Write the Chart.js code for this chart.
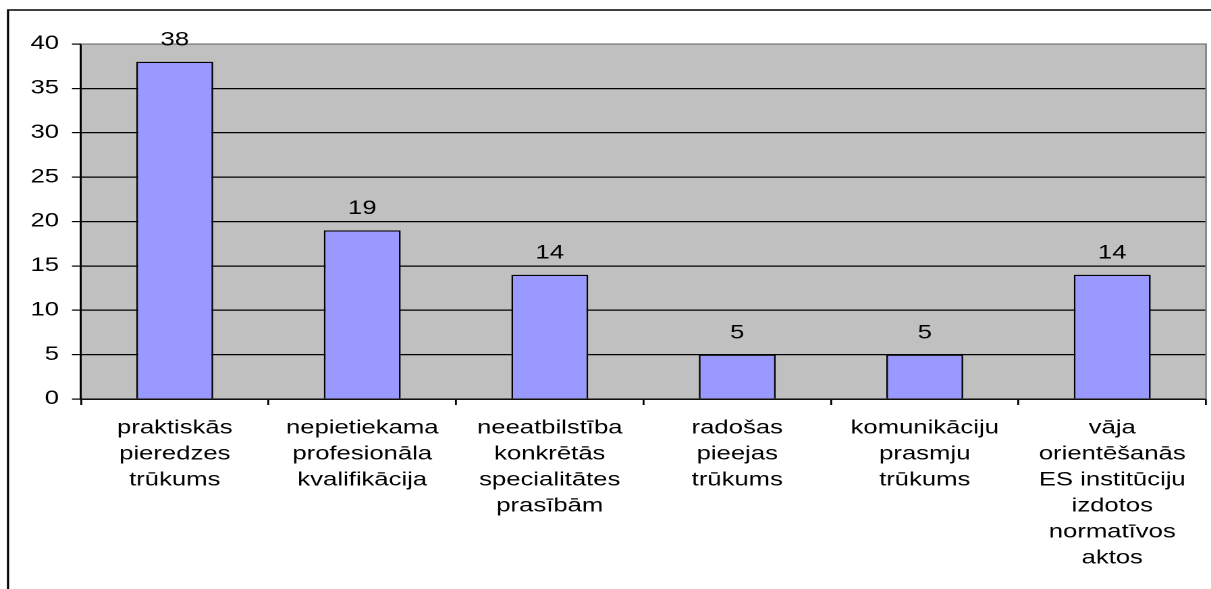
<!DOCTYPE html>
<html>
<head>
<meta charset="utf-8">
<script src="https://cdn.jsdelivr.net/npm/chart.js@4/dist/chart.umd.min.js"></script>
<style>
html,body{margin:0;padding:0;background:#fff;}
#wrap{width:1211px;height:589px;overflow:hidden;position:relative;}
#c{transform-origin:0 0;}
</style>
</head>
<body>
<div id="wrap"><canvas id="c" width="897" height="589" style="width:897px;height:589px;"></canvas></div>
<script>
// ---- data ----
const categories = [
  ["praktiskās", "pieredzes", "trūkums"],
  ["nepietiekama", "profesionāla", "kvalifikācija"],
  ["neeatbilstība", "konkrētās", "specialitātes", "prasībām"],
  ["radošas", "pieejas", "trūkums"],
  ["komunikāciju", "prasmju", "trūkums"],
  ["vāja", "orientēšanās", "ES institūciju", "izdotos", "normatīvos", "aktos"]
];
const values = [38, 19, 14, 5, 5, 14];
const yTicks = [0, 5, 10, 15, 20, 25, 30, 35, 40];

// ---- layout (reference is horizontally stretched) ----
const REF_W = 1211, LOG_W = 897;
const SX = REF_W / LOG_W;
document.getElementById('c').style.transform = 'scaleX(' + SX + ')';
const FONT = "'Liberation Sans', Arial, sans-serif";
const FS = 19;

const decor = {
  id: 'decor',
  beforeDraw(chart) {
    const {ctx, chartArea: a} = chart;
    ctx.save();
    ctx.fillStyle = '#C0C0C0';
    ctx.fillRect(a.left, a.top, a.right - a.left, a.bottom - a.top);
    ctx.restore();
  },
  afterDatasetsDraw(chart) {
    const {ctx, chartArea: a} = chart;
    ctx.save();
    // plot border top / right (gray)
    ctx.strokeStyle = '#808080';
    ctx.lineWidth = 1.3;
    ctx.beginPath();
    ctx.moveTo(a.left, a.top);
    ctx.lineTo(a.right, a.top);
    ctx.lineTo(a.right, a.bottom);
    ctx.stroke();
    // value labels
    const meta = chart.getDatasetMeta(0);
    ctx.fillStyle = '#000';
    ctx.font = FS + 'px ' + FONT;
    ctx.textAlign = 'center';
    ctx.textBaseline = 'middle';
    meta.data.forEach((bar, i) => {
      ctx.fillText(String(values[i]), bar.x, bar.y - 21.5);
    });
    // outer frame (top and left)
    ctx.strokeStyle = '#000';
    ctx.lineWidth = 1.6;
    ctx.beginPath();
    ctx.moveTo(8 / SX, chart.height);
    ctx.lineTo(8 / SX, 10);
    ctx.lineTo(chart.width, 10);
    ctx.stroke();
    ctx.restore();
  }
};

new Chart(document.getElementById('c'), {
  type: 'bar',
  data: {
    labels: categories,
    datasets: [{
      data: values,
      backgroundColor: '#9999FF',
      borderColor: '#000000',
      borderWidth: 1.3,
      barPercentage: 0.41,
      categoryPercentage: 1.0
    }]
  },
  options: {
    responsive: false,
    animation: false,
    devicePixelRatio: 2,
    layout: { padding: { left: 0, top: 44, right: LOG_W - 1206 / SX, bottom: 0 } },
    plugins: { legend: { display: false }, tooltip: { enabled: false }, title: { display: false } },
    scales: {
      x: {
        offset: true,
        grid: { offset: true, drawOnChartArea: false, drawTicks: true, tickLength: 6, color: '#000', lineWidth: 1.4 },
        border: { color: '#000', width: 1.4 },
        ticks: {
          autoSkip: false, maxRotation: 0, minRotation: 0, padding: 10.4, color: '#000',
          font: { family: FONT, size: FS, lineHeight: 26 / FS }
        },
        afterFit(scale) { scale.height = 589 - 399; }
      },
      y: {
        min: 0, max: 40,
        afterBuildTicks(scale) { scale.ticks = yTicks.map(v => ({ value: v })); },
        grid: {
          color: (c) => (c.tick && c.tick.value === 40 ? '#808080' : '#000'),
          tickColor: '#000', lineWidth: 1.2, drawTicks: true, tickLength: 6.7
        },
        border: { color: '#000', width: 1.5 },
        ticks: { padding: 9.6, color: '#000', font: { family: FONT, size: FS } },
        afterFit(scale) { scale.width = 81 / SX; }
      }
    }
  },
  plugins: [decor]
});
</script>
</body>
</html>
